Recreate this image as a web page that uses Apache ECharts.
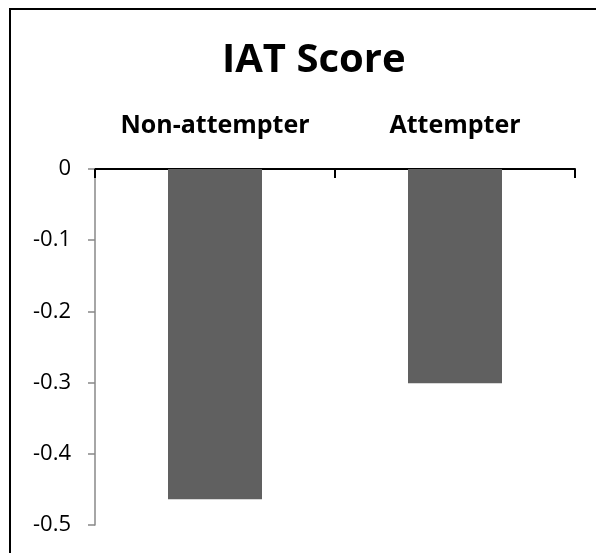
<!DOCTYPE html>
<html>
<head>
<meta charset="utf-8">
<script src="https://cdn.jsdelivr.net/npm/echarts@6/dist/echarts.min.js"></script>
<style>
  html, body { margin: 0; padding: 0; background: #fff; }
  #chart { width: 596px; height: 553px; }
</style>
</head>
<body>
<div id="chart"></div>
<script>
const categories = ['Non-attempter', 'Attempter'];
const iat_scores = [-0.464, -0.301];
const y_ticks = { min: -0.5, max: 0, step: 0.1 };

const chart = echarts.init(document.getElementById('chart'));

const option = {
    backgroundColor: '#fff',
    animation: false,
    title: {
        text: 'IAT Score',
        left: 217,
        top: 36,
        textStyle: { fontFamily: 'Open Sans', fontWeight: 'bold', fontSize: 40, color: '#000' }
    },
    // frame of the chart, only top and left edges fall inside the picture
    graphic: [
        {
            type: 'rect',
            shape: { x: 10, y: 9, width: 800, height: 800 },
            style: { fill: 'none', stroke: '#000', lineWidth: 2 },
            silent: true
        }
    ],
    grid: { left: 95, right: 21, top: 169, bottom: 28 },
    xAxis: {
        type: 'category',
        position: 'top',
        data: categories,
        axisLine: { lineStyle: { color: '#000', width: 2 } },
        axisTick: { show: true, inside: true, length: 9, lineStyle: { color: '#000', width: 2 } },
        axisLabel: {
            interval: 0,
            hideOverlap: false,
            margin: 31,
            fontFamily: 'Open Sans',
            fontWeight: 'bold',
            fontSize: 25,
            color: '#000'
        },
        splitLine: { show: false }
    },
    yAxis: {
        type: 'value',
        min: y_ticks.min,
        max: y_ticks.max,
        interval: y_ticks.step,
        axisLine: { show: true, lineStyle: { color: '#888', width: 1.5 } },
        axisTick: { show: true, length: 7, lineStyle: { color: '#888', width: 1.5 } },
        axisLabel: {
            margin: 24,
            fontFamily: 'Open Sans',
            fontSize: 22,
            color: '#000',
            formatter: v => (Math.abs(v) < 1e-9 ? '0' : v.toFixed(1))
        },
        splitLine: { show: false }
    },
    series: [
        {
            type: 'bar',
            data: iat_scores,
            barWidth: 94,
            itemStyle: { color: '#606060' }
        }
    ]
};
chart.setOption(option);
</script>
</body>
</html>
